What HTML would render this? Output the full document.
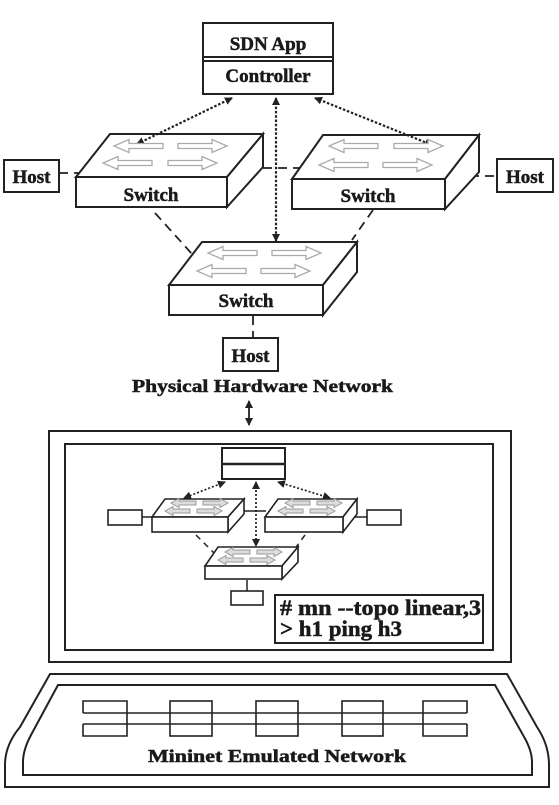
<!DOCTYPE html>
<html><head><meta charset="utf-8"><style>
html,body{margin:0;padding:0;background:#fff}
svg{display:block}
text{font-family:"Liberation Serif",serif;font-weight:700;fill:#1a1a1a;stroke:#1a1a1a;stroke-width:0.5}
</style></head><body>
<svg width="559" height="805" viewBox="0 0 559 805" xmlns="http://www.w3.org/2000/svg">
<defs>
<marker id="ah" markerWidth="8" markerHeight="8" refX="7" refY="4" orient="auto-start-reverse" markerUnits="userSpaceOnUse">
<path d="M0,0 L8,4 L0,8 z" fill="#222"/></marker>
<polygon id="ar" points="0,-2.5 34,-2.5 34,-6.5 49,0 34,6.5 34,2.5 0,2.5" fill="#fff" stroke="#aaa" stroke-width="1.3"/>
<polygon id="sar" points="0,-2 17,-2 17,-4.5 25,0 17,4.5 17,2 0,2" fill="#ddd" stroke="#999" stroke-width="1"/>
</defs>
<g fill="none" stroke="#222" stroke-width="2">
<rect x="203" y="23" width="130" height="71" fill="#fff"/>
<line x1="203" y1="57" x2="333" y2="57"/><line x1="203" y1="61" x2="333" y2="61"/>
<g stroke-dasharray="9,6" stroke-width="1.8">
<line x1="59" y1="173" x2="86" y2="173"/>
<line x1="263" y1="168" x2="306" y2="168"/>
<line x1="470" y1="176" x2="497" y2="176"/>
<line x1="155" y1="213" x2="192" y2="254"/>
<line x1="373" y1="210" x2="352" y2="240"/>
<line x1="253" y1="316" x2="253" y2="338"/>
</g>
<polygon points="76,177 110,134 263,134 227,177" fill="#fff"/>
<polygon points="227,177 263,134 263,167 227,207" fill="#fff"/>
<rect x="76" y="177" width="151" height="30" fill="#fff"/>
<polygon points="292,179 323,135 479,135 445,179" fill="#fff"/>
<polygon points="445,179 479,135 479,172 445,209" fill="#fff"/>
<rect x="292" y="179" width="153" height="30" fill="#fff"/>
<polygon points="169,285 202,242 357,242 323,285" fill="#fff"/>
<polygon points="323,285 357,242 357,272 323,315" fill="#fff"/>
<rect x="169" y="285" width="154" height="30" fill="#fff"/>
<rect x="4" y="160" width="55" height="32" fill="#fff"/>
<rect x="497" y="159" width="56" height="33" fill="#fff"/>
<rect x="223" y="338" width="55" height="33" fill="#fff"/>
<g stroke-dasharray="2.5,1.8" stroke-width="2.2">
<line x1="232" y1="98" x2="137" y2="144" marker-start="url(#ah)" marker-end="url(#ah)"/>
<line x1="276" y1="98" x2="276" y2="241" marker-start="url(#ah)" marker-end="url(#ah)"/>
<line x1="315" y1="98" x2="432" y2="145" marker-start="url(#ah)" marker-end="url(#ah)"/>
</g>
<line x1="249" y1="401" x2="249" y2="425" stroke-width="1.8" marker-start="url(#ah)" marker-end="url(#ah)"/>
<rect x="49" y="431" width="462" height="231"/>
<rect x="65" y="444" width="428" height="206"/>
<rect x="222" y="448" width="63" height="31" fill="#fff"/>
<line x1="222" y1="464" x2="285" y2="464" stroke-width="2.6"/>
<g stroke-width="1.5">
<line x1="142" y1="517" x2="155" y2="517"/>
<line x1="343" y1="517" x2="367" y2="517"/>
<line x1="244" y1="511" x2="266" y2="511"/>
<line x1="247" y1="580" x2="247" y2="591"/>
</g>
<g stroke-dasharray="6,5" stroke-width="1.5">
<line x1="196" y1="535" x2="214" y2="553"/>
<line x1="305" y1="535" x2="294" y2="550"/>
</g>
<g stroke-width="1.6">
<polygon points="152,517 165,499 244,499 228,517" fill="#fff"/>
<polygon points="228,517 244,499 244,514 228,532" fill="#fff"/>
<rect x="152" y="517" width="76" height="15" fill="#fff"/>
<polygon points="265,517 278,499 357,499 343,517" fill="#fff"/>
<polygon points="343,517 357,499 357,514 343,532" fill="#fff"/>
<rect x="265" y="517" width="78" height="15" fill="#fff"/>
<polygon points="205,566 218,547 298,547 282,566" fill="#fff"/>
<polygon points="282,566 298,547 298,562 282,579" fill="#fff"/>
<rect x="205" y="566" width="77" height="13" fill="#fff"/>
<rect x="108" y="510" width="34" height="15" fill="#fff"/>
<rect x="367" y="510" width="34" height="15" fill="#fff"/>
<rect x="231" y="591" width="32" height="14" fill="#fff"/>
</g>
<g stroke-dasharray="2,2" stroke-width="1.7">
<line x1="225" y1="482" x2="184" y2="498" marker-start="url(#ah)" marker-end="url(#ah)"/>
<line x1="256" y1="482" x2="256" y2="546" marker-start="url(#ah)" marker-end="url(#ah)"/>
<line x1="278" y1="482" x2="330" y2="498" marker-start="url(#ah)" marker-end="url(#ah)"/>
</g>
<rect x="275" y="595" width="208" height="48" fill="#fff"/>
<path d="M50,674 L507,674 L537,727 Q549,745 549,765 L549,787 L5,787 L5,765 Q5,745 20,727 Z"/>
<path d="M58,685 L495,685 L523,735 Q532,750 532,762 L532,775 L23,775 L23,762 Q23,750 31,735 Z"/>
<g stroke-width="1.6">
<line x1="83" y1="713" x2="467" y2="713"/>
<line x1="83" y1="724" x2="467" y2="724"/>
<polyline points="127,713 127,701 83,701 83,713"/><polyline points="127,724 127,736 83,736 83,724"/><line x1="127" y1="713" x2="127" y2="724"/>
<rect x="170" y="701" width="42" height="35"/>
<rect x="256" y="701" width="42" height="35"/>
<rect x="342" y="701" width="41" height="35"/>
<polyline points="423,713 423,701 467,701 467,713"/><polyline points="423,724 423,736 467,736 467,724"/><line x1="423" y1="713" x2="423" y2="724"/>
</g>
</g>
<use href="#ar" transform="translate(163,146) scale(-1,1)"/>
<use href="#ar" transform="translate(178,146)"/>
<use href="#ar" transform="translate(152,163) scale(-1,1)"/>
<use href="#ar" transform="translate(168,163)"/>
<use href="#ar" transform="translate(378,146) scale(-1,1)"/>
<use href="#ar" transform="translate(394,146)"/>
<use href="#ar" transform="translate(368,165) scale(-1,1)"/>
<use href="#ar" transform="translate(383,165)"/>
<use href="#ar" transform="translate(257,253) scale(-1,1)"/>
<use href="#ar" transform="translate(272,253)"/>
<use href="#ar" transform="translate(246,271) scale(-1,1)"/>
<use href="#ar" transform="translate(261,271)"/>
<use href="#sar" transform="translate(196,503) scale(-1,1)"/>
<use href="#sar" transform="translate(203,503)"/>
<use href="#sar" transform="translate(190,511) scale(-1,1)"/>
<use href="#sar" transform="translate(197,511)"/>
<use href="#sar" transform="translate(310,503) scale(-1,1)"/>
<use href="#sar" transform="translate(317,503)"/>
<use href="#sar" transform="translate(303,511) scale(-1,1)"/>
<use href="#sar" transform="translate(310,511)"/>
<use href="#sar" transform="translate(250,552) scale(-1,1)"/>
<use href="#sar" transform="translate(257,552)"/>
<use href="#sar" transform="translate(243,560) scale(-1,1)"/>
<use href="#sar" transform="translate(250,560)"/>
<text x="268" y="50" font-size="19" font-weight="bold" text-anchor="middle">SDN App</text>
<text x="268" y="82" font-size="19" font-weight="bold" text-anchor="middle">Controller</text>
<text x="31.5" y="183" font-size="19" font-weight="bold" text-anchor="middle">Host</text>
<text x="525" y="183" font-size="19" font-weight="bold" text-anchor="middle">Host</text>
<text x="250.5" y="362" font-size="19" font-weight="bold" text-anchor="middle">Host</text>
<text x="151" y="201" font-size="19" font-weight="bold" text-anchor="middle">Switch</text>
<text x="368" y="202" font-size="19" font-weight="bold" text-anchor="middle">Switch</text>
<text x="246" y="307" font-size="19" font-weight="bold" text-anchor="middle">Switch</text>
<text x="132" y="392" font-size="18" font-weight="bold" textLength="261" lengthAdjust="spacingAndGlyphs">Physical Hardware Network</text>
<text x="280" y="615" font-size="22" font-weight="bold" textLength="201" lengthAdjust="spacingAndGlyphs"># mn --topo linear,3</text>
<text x="280" y="636" font-size="22" font-weight="bold" textLength="122" lengthAdjust="spacingAndGlyphs">&gt; h1 ping h3</text>
<text x="148" y="762" font-size="18" font-weight="bold" textLength="258" lengthAdjust="spacingAndGlyphs">Mininet Emulated Network</text>
</svg>
</body></html>
